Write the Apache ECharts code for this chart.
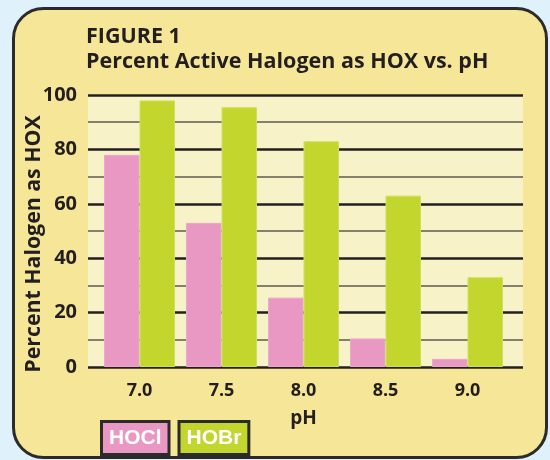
<!DOCTYPE html>
<html>
<head>
<meta charset="utf-8">
<script src="https://cdn.jsdelivr.net/npm/echarts@6/dist/echarts.min.js"></script>
<style>
html,body{margin:0;padding:0;background:#dff2fb;}
#chart{width:550px;height:460px;}
</style>
</head>
<body>
<div id="chart"></div>
<script>
// Data
const categories = ['7.0', '7.5', '8.0', '8.5', '9.0'];
const hoclValues = [78, 53, 25.5, 10.5, 3];
const hobrValues = [98, 95.5, 83, 63, 33];
const seriesNames = ['HOCl', 'HOBr'];
const titleLines = ['FIGURE 1', 'Percent Active Halogen as HOX vs. pH'];
const yAxisName = 'Percent Halogen as HOX';
const xAxisName = 'pH';

const ink = '#231f20';
const pink = '#e898c3';
const green = '#c2d62e';
const font = 'Open Sans';

const chart = echarts.init(document.getElementById('chart'), null, {renderer: 'canvas'});
chart.setOption({
  animation: false,
  backgroundColor: '#dff2fb',
  graphic: [{
    type: 'rect',
    z: -10,
    silent: true,
    shape: {x: 13.5, y: 8.5, width: 533, height: 449, r: 30},
    style: {fill: '#f6e697', stroke: '#2b2b2b', lineWidth: 3}
  }],
  title: {
    text: titleLines.join('\n'),
    left: 86,
    top: 24,
    padding: 0,
    textStyle: {fontFamily: font, fontWeight: 'bold', fontSize: 21.5, lineHeight: 25, color: ink}
  },
  legend: {
    data: [
      {name: seriesNames[0], textStyle: {backgroundColor: pink}},
      {name: seriesNames[1], textStyle: {backgroundColor: green}}
    ],
    left: 97,
    top: 420,
    padding: 0,
    itemWidth: 0,
    itemHeight: 0,
    itemGap: 4,
    selectedMode: false,
    textStyle: {
      fontFamily: 'Liberation Sans', fontWeight: 'bold', fontSize: 21, lineHeight: 23,
      color: '#ffffff', borderColor: '#2b2b2b', borderWidth: 3, padding: [4, 6, 3, 6]
    }
  },
  grid: [
    {left: 88, top: 95, width: 435, height: 272, show: true, backgroundColor: '#f8f2c8', borderWidth: 0},
    {left: 98.5, top: 95, width: 410, height: 272}
  ],
  xAxis: [
    {gridIndex: 0, type: 'value', min: 0, max: 1, show: false},
    {
      gridIndex: 1, type: 'category', data: categories,
      axisLine: {show: false}, axisTick: {show: false},
      axisLabel: {fontFamily: font, fontWeight: 'bold', fontSize: 18, color: ink, margin: 15},
      name: xAxisName, nameLocation: 'middle', nameGap: 42, nameMoveOverlap: false,
      nameTextStyle: {fontFamily: font, fontWeight: 'bold', fontSize: 19, color: ink}
    }
  ],
  yAxis: [
    {
      gridIndex: 0, type: 'value', min: 0, max: 100, interval: 20,
      axisLine: {show: false}, axisTick: {show: false},
      axisLabel: {fontFamily: font, fontWeight: 'bold', fontSize: 20, color: ink, margin: 11},
      splitLine: {show: true, lineStyle: {color: ink, width: 2.5}},
      minorTick: {show: false, splitNumber: 2},
      minorSplitLine: {show: true, lineStyle: {color: '#5f5b4e', width: 1.5}},
      name: yAxisName, nameLocation: 'middle', nameGap: 44, nameMoveOverlap: false,
      nameTextStyle: {fontFamily: font, fontWeight: 'bold', fontSize: 21.3, color: ink, padding: [0, 26, 0, 0]}
    },
    {gridIndex: 1, type: 'value', min: 0, max: 100, show: false}
  ],
  series: [
    {
      name: seriesNames[0], type: 'bar', xAxisIndex: 1, yAxisIndex: 1,
      data: hoclValues, barWidth: 35.5, barGap: '0%',
      itemStyle: {color: pink, borderColor: '#eaa8cb', borderWidth: 1}
    },
    {
      name: seriesNames[1], type: 'bar', xAxisIndex: 1, yAxisIndex: 1,
      data: hobrValues, barWidth: 35.5, barGap: '0%',
      itemStyle: {color: green, borderColor: '#cfdf5c', borderWidth: 1}
    }
  ]
});
</script>
</body>
</html>
